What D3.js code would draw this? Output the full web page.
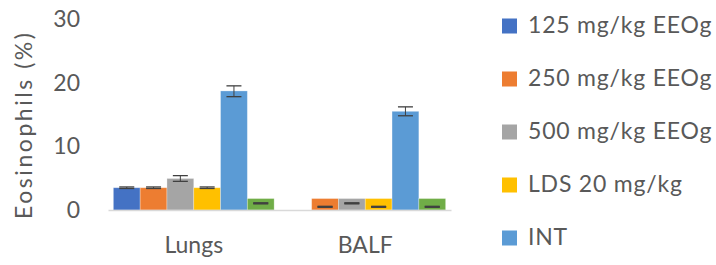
<!DOCTYPE html>
<html>
<head>
<meta charset="utf-8">
<script src="https://cdn.jsdelivr.net/npm/d3@7/dist/d3.min.js"></script>
<style>
  body { margin: 0; background: #fff; }
  svg { display: block; font-family: Lato, "Open Sans", sans-serif; }
</style>
</head>
<body>
<svg id="chart" width="716" height="265"></svg>
<script>
// categories and series
const categories = ["Lungs", "BALF"];
const seriesNames = ["125 mg/kg EEOg", "250 mg/kg EEOg", "500 mg/kg EEOg", "LDS 20 mg/kg", "INT", "Control"];
const seriesColors = ["#4472C4", "#ED7D31", "#A5A5A5", "#FFC000", "#5B9BD5", "#70AD47"];

// bar heights, one array per series: [Lungs, BALF]
const dose125 = [3.5, 0];
const dose250 = [3.5, 1.8];
const dose500 = [4.95, 1.8];
const lds20 = [3.5, 1.8];
const intGroup = [18.7, 15.5];
const control = [1.8, 1.8];

// error bars (centre and half-size, as drawn in the picture)
const errMid125 = [3.5, 0];
const errMid250 = [3.5, 0.5];
const errMid500 = [4.95, 1.05];
const errMidLds = [3.5, 0.5];
const errMidInt = [18.65, 15.5];
const errMidCtl = [1.05, 0.5];
const errSize125 = [0.12, 0];
const errSize250 = [0.12, 0];
const errSize500 = [0.45, 0];
const errSizeLds = [0.12, 0];
const errSizeInt = [0.85, 0.7];
const errSizeCtl = [0, 0];

const yTicks = [0, 10, 20, 30];
const legendCount = 5; // the last entry falls below the picture

const values = [dose125, dose250, dose500, lds20, intGroup, control];
const errMids = [errMid125, errMid250, errMid500, errMidLds, errMidInt, errMidCtl];
const errSizes = [errSize125, errSize250, errSize500, errSizeLds, errSizeInt, errSizeCtl];

const svg = d3.select("#chart");
const textColor = "#595959";
const fontSize = "23px";

const x0 = d3.scaleBand().domain(categories).range([108, 451]).padding(0);
const x1 = d3.scaleBand().domain(d3.range(seriesNames.length))
  .range([0, x0.bandwidth()]).paddingInner(0).paddingOuter(0.2);
const y = d3.scaleLinear().domain([0, 30]).range([210, 19]);

// y axis labels
const yAxis = svg.append("g")
  .attr("transform", "translate(90,0)")
  .call(d3.axisLeft(y).tickValues(yTicks).tickSize(0).tickPadding(10));
yAxis.select(".domain").remove();
yAxis.selectAll("text")
  .style("font-size", fontSize)
  .style("font-family", "Lato, 'Open Sans', sans-serif")
  .attr("fill", textColor);

svg.append("text")
  .attr("transform", "translate(32,126) rotate(-90)")
  .attr("text-anchor", "middle")
  .style("font-size", fontSize)
  .attr("fill", textColor)
  .attr("textLength", 186)
  .attr("lengthAdjust", "spacing")
  .text("Eosinophils (%)");

// bars
const groups = svg.selectAll(".grp")
  .data(categories)
  .enter().append("g")
  .attr("class", "grp")
  .attr("transform", d => `translate(${x0(d)},0)`);

groups.each(function(cat, ci) {
  const g = d3.select(this);
  seriesNames.forEach((s, si) => {
    const v = values[si][ci];
    if (v > 0) {
      g.append("rect")
        .attr("x", x1(si))
        .attr("y", y(v))
        .attr("width", x1.bandwidth())
        .attr("height", y(0) - y(v))
        .attr("fill", seriesColors[si])
        .attr("stroke", "#fff")
        .attr("stroke-opacity", 0.35)
        .attr("stroke-width", 0.8);
    }
    const m = errMids[si][ci];
    if (m > 0) {
      const e = errSizes[si][ci];
      const cx = x1(si) + x1.bandwidth() / 2;
      const hw = 7.5;
      const col = "#404040";
      g.append("line").attr("x1", cx).attr("x2", cx)
        .attr("y1", y(m + e)).attr("y2", y(m - e))
        .attr("stroke", col).attr("stroke-width", 1);
      [m + e, m - e].forEach(t => {
        g.append("line").attr("x1", cx - hw).attr("x2", cx + hw)
          .attr("y1", y(t)).attr("y2", y(t))
          .attr("stroke", col).attr("stroke-width", e < 0.05 ? 2 : 1.3);
      });
    }
  });
});

// x axis
const xAxis = svg.append("g")
  .attr("transform", `translate(0,${y(0)})`)
  .call(d3.axisBottom(x0).tickSize(0).tickPadding(27));
xAxis.select(".domain").attr("stroke", "#d9d9d9").attr("stroke-width", 1.3);
xAxis.selectAll("text")
  .style("font-size", fontSize)
  .style("font-family", "Lato, 'Open Sans', sans-serif")
  .attr("fill", textColor);

// legend
const legend = svg.selectAll(".leg")
  .data(seriesNames.slice(0, legendCount))
  .enter().append("g")
  .attr("class", "leg")
  .attr("transform", (d, i) => `translate(502,${33 + i * 53})`);
legend.append("rect")
  .attr("x", 0).attr("y", -14.5)
  .attr("width", 15).attr("height", 15)
  .attr("fill", (d, i) => seriesColors[i]);
legend.append("text")
  .attr("x", 26).attr("y", 0)
  .style("font-size", fontSize)
  .style("letter-spacing", "0.8px")
  .attr("fill", textColor)
  .text(d => d);
</script>
</body>
</html>
